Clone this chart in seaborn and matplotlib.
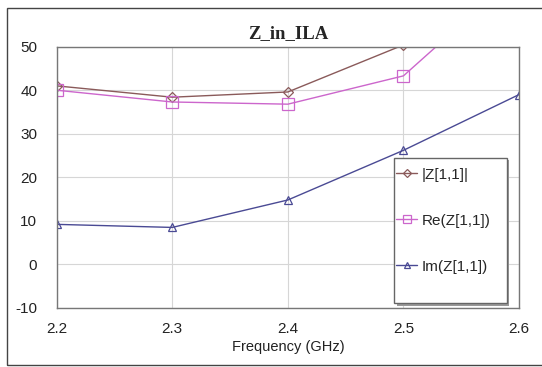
import matplotlib
matplotlib.use("Agg")
import matplotlib.pyplot as plt
import seaborn as sns
import pandas as pd
from matplotlib.patches import Rectangle

freq = [2.2, 2.3, 2.4, 2.5, 2.6]
mag_z = [41.0, 38.4, 39.6, 50.4, 77.5]
re_z = [40.0, 37.3, 36.8, 43.3, 67.0]
im_z = [9.2, 8.5, 14.8, 26.2, 39.0]
labels = ["|Z[1,1]|", "Re(Z[1,1])", "Im(Z[1,1])"]
xticks = [2.2, 2.3, 2.4, 2.5, 2.6]
yticks = [-10, 0, 10, 20, 30, 40, 50]

df = pd.DataFrame({
    "freq": freq * 3,
    "val": mag_z + re_z + im_z,
    "series": [labels[0]] * 5 + [labels[1]] * 5 + [labels[2]] * 5,
})

sns.set_style("white")
plt.rcParams["font.family"] = ["Liberation Sans", "DejaVu Sans"]
plt.rcParams["axes.unicode_minus"] = False

fig = plt.figure(figsize=(5.42, 3.67), dpi=100)
ax = fig.add_axes([0.1046, 0.1608, 0.853, 0.712])

colors = {labels[0]: "#8a5a5a", labels[1]: "#cc66cc", labels[2]: "#4a4a94"}
markers = {labels[0]: "D", labels[1]: "s", labels[2]: "^"}
sizes = {labels[0]: 5, labels[1]: 8, labels[2]: 6}

for lab in labels:
    sub = df[df["series"] == lab]
    sns.lineplot(data=sub, x="freq", y="val", ax=ax, color=colors[lab],
                 marker=markers[lab], markersize=sizes[lab], markerfacecolor="none",
                 markeredgecolor=colors[lab], markeredgewidth=0.9, linewidth=1.0,
                 label=lab, clip_on=True)

ax.set_xlim(2.2, 2.6)
ax.set_ylim(-10, 50)
ax.set_xticks(xticks)
ax.set_xticklabels([f"{t:.1f}" for t in xticks])
ax.set_yticks(yticks)
ax.tick_params(axis="both", length=0, labelsize=11, colors="#222222")
ax.tick_params(axis="x", pad=10)
ax.tick_params(axis="y", pad=14)
ax.grid(True, color="#d6d6d6", linewidth=0.8)
for s in ax.spines.values():
    s.set_color("#777777")
    s.set_linewidth(1.0)
ax.set_xlabel("Frequency (GHz)", fontsize=10.5, labelpad=3, color="#222222")
ax.set_ylabel("")
ax.set_title("Z_in_ILA", fontsize=13.5, fontweight="bold",
             family=["Liberation Serif", "DejaVu Serif"], pad=6)

# legend box with shadow (drawn manually for the asymmetric padding)
bx0, by0, bx1, by1 = 0.730, 0.019, 0.974, 0.574
dx, dy = 2.5 / 462.3, 2.5 / 261.3
ax.add_patch(Rectangle((bx0 + dx, by0 - dy), bx1 - bx0, by1 - by0,
                       transform=ax.transAxes, facecolor="#999999",
                       edgecolor="none", zorder=5, clip_on=False))
ax.add_patch(Rectangle((bx0, by0), bx1 - bx0, by1 - by0,
                       transform=ax.transAxes, facecolor="white",
                       edgecolor="#666666", linewidth=1.0, zorder=6, clip_on=False))

leg = ax.legend(loc="upper left", bbox_to_anchor=(0.734, 0.537), frameon=False,
                fontsize=11, labelspacing=2.1, handlelength=1.4, borderpad=0.0,
                handletextpad=0.3, borderaxespad=0.0, markerscale=0.75)
leg.set_zorder(7)

fig.patches.append(Rectangle((7 / 542, 2 / 367), 1.0, 1 - 10 / 367,
                             transform=fig.transFigure, fill=False,
                             edgecolor="#444444", linewidth=1.0))

fig.savefig("out.png", dpi=100)
